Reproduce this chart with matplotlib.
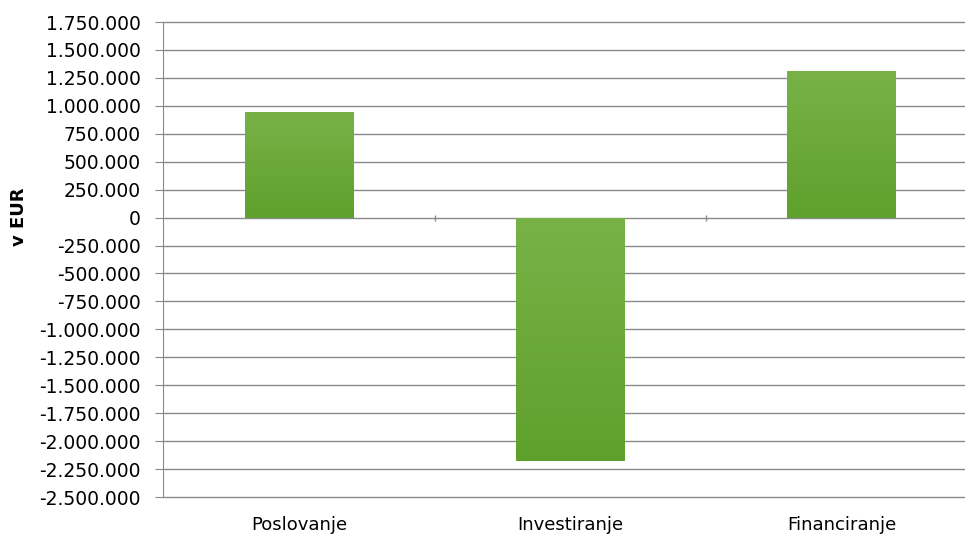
import numpy as np
import matplotlib
matplotlib.use("Agg")
import matplotlib.pyplot as plt
from matplotlib.ticker import FuncFormatter, FixedLocator

categories = ["Poslovanje", "Investiranje", "Financiranje"]
values = [945000, -2178000, 1312000]
y_ticks = list(range(-2500000, 1750001, 250000))


def eur_fmt(v, pos):
    s = "{:,.0f}".format(v).replace(",", ".")
    return s


fig = plt.figure(figsize=(9.65, 5.38), dpi=100)
ax = fig.add_axes([0.169, 0.0762, 0.831, 0.8829])

x = np.arange(len(categories))
bars = ax.bar(x, values, width=0.40, color="#6aa83a", zorder=3)

# vertical gradient fill for each bar
grad = np.linspace(0, 1, 256).reshape(-1, 1)
cmap = matplotlib.colors.LinearSegmentedColormap.from_list("g", ["#5fa02c", "#78b247"])
for b in bars:
    x0, y0 = b.get_x(), b.get_y()
    w, h = b.get_width(), b.get_height()
    lo, hi = min(y0, y0 + h), max(y0, y0 + h)
    im = ax.imshow(grad, cmap=cmap, aspect="auto", origin="lower",
                   extent=[x0, x0 + w, lo, hi], zorder=4)
    im.set_clip_path(b)

ax.set_xlim(-0.5, 2.454)
ax.set_ylim(-2500000, 1750000)
ax.yaxis.set_major_locator(FixedLocator(y_ticks))
ax.yaxis.set_major_formatter(FuncFormatter(eur_fmt))
ax.grid(axis="y", color="#8a8a8a", linewidth=1.0, zorder=1)
for gl in ax.get_ygridlines():
    gl.set_clip_on(False)

for side in ["top", "right", "bottom"]:
    ax.spines[side].set_visible(False)
ax.spines["left"].set_color("#8a8a8a")

ax.tick_params(axis="y", length=6, color="#8a8a8a", labelsize=13.5, pad=10)
ax.tick_params(axis="x", length=0, labelsize=13, pad=14)
ax.set_xticks(x)
ax.set_xticklabels(categories)

# small tick marks on the zero line between categories
ax.plot([0.5, 1.5], [0, 0], linestyle="none", marker="|", markersize=5,
        color="#8a8a8a", zorder=2)

ax.set_ylabel("v EUR", fontsize=13, fontweight="bold")
ax.yaxis.set_label_coords(-0.168, 0.59)

fig.savefig("out.png", dpi=100)
